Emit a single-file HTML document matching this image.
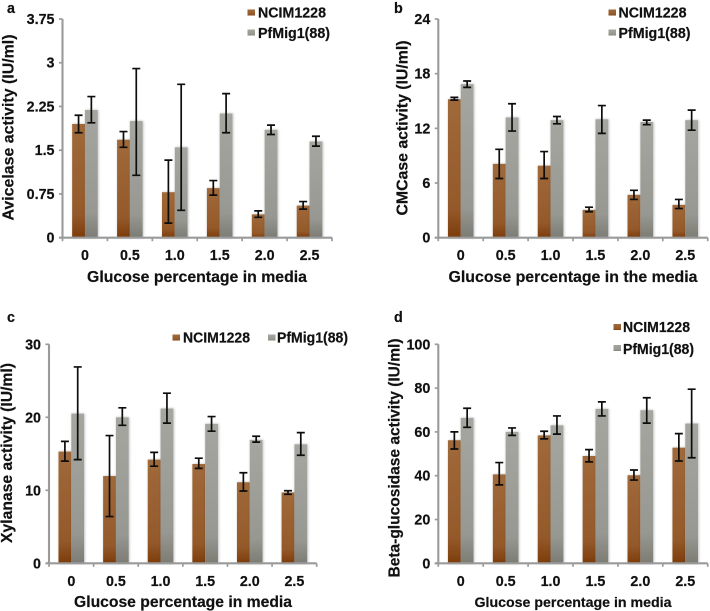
<!DOCTYPE html>
<html lang="en">
<head>
<meta charset="utf-8">
<title>Enzyme activity by glucose percentage</title>
<style>
html,body{margin:0;padding:0;background:#fff;width:710px;height:611px;overflow:hidden}
svg{display:block;filter:blur(.3px)}
text{font-family:"Liberation Sans",sans-serif;font-weight:700;fill:#111;font-size:14.3px;stroke:#111;stroke-width:.2px}
</style>
</head>
<body>
<svg id="figure" width="710" height="611" viewBox="0 0 710 611" xmlns="http://www.w3.org/2000/svg">
<defs>
<linearGradient id="brownFill" x1="0" y1="0" x2="0" y2="1"><stop offset="0" stop-color="#a0693a"/><stop offset=".8" stop-color="#94592a"/><stop offset="1" stop-color="#7c3c0a"/></linearGradient>
<linearGradient id="greyFill" x1="0" y1="0" x2="0" y2="1"><stop offset="0" stop-color="#a6a6a0"/><stop offset=".8" stop-color="#989892"/><stop offset="1" stop-color="#7c7c75"/></linearGradient>
<filter id="barGlow" x="-40%" y="-10%" width="180%" height="120%"><feDropShadow dx="0.6" dy="0" stdDeviation="1.4" flood-color="#000" flood-opacity=".28"/></filter>
</defs>

<text x="7" y="13">a</text>
<text x="394" y="13">b</text>
<text x="7" y="322">c</text>
<text x="394" y="322">d</text>

<text transform="translate(13.5 127.5) rotate(-90)" text-anchor="middle" textLength="186" lengthAdjust="spacingAndGlyphs" style="font-size:15.5px">Avicelase activity (IU/ml)</text>
<text transform="translate(407.7 128) rotate(-90)" text-anchor="middle" textLength="175" lengthAdjust="spacingAndGlyphs" style="font-size:15.5px">CMCase activity (IU/ml)</text>
<text transform="translate(12 453) rotate(-90)" text-anchor="middle" textLength="180" lengthAdjust="spacingAndGlyphs" style="font-size:15.5px">Xylanase activity (IU/ml)</text>
<text transform="translate(399.7 458) rotate(-90)" text-anchor="middle" textLength="239" lengthAdjust="spacingAndGlyphs" style="font-size:15.5px">Beta-glucosidase activity (IU/ml)</text>

<text x="197" y="282" text-anchor="middle" textLength="220" lengthAdjust="spacingAndGlyphs" style="font-size:15.5px">Glucose percentage in media</text>
<text x="573" y="282" text-anchor="middle" textLength="249" lengthAdjust="spacingAndGlyphs" style="font-size:15.5px">Glucose percentage in the media</text>
<text x="183" y="607" text-anchor="middle" textLength="218" lengthAdjust="spacingAndGlyphs" style="font-size:15.5px">Glucose percentage in media</text>
<text x="573" y="607" text-anchor="middle" textLength="197" lengthAdjust="spacingAndGlyphs" style="font-size:14px">Glucose percentage in media</text>

<g>
<rect x="247.5" y="9.5" width="7.5" height="6" fill="url(#brownFill)"/>
<text x="258" y="17.5" textLength="68" lengthAdjust="spacingAndGlyphs">NCIM1228</text>
<rect x="247.5" y="29.5" width="7.5" height="6" fill="url(#greyFill)"/>
<text x="258" y="38" textLength="72" lengthAdjust="spacingAndGlyphs">PfMig1(88)</text>
</g>
<g>
<rect x="608.5" y="9.5" width="7.5" height="6" fill="url(#brownFill)"/>
<text x="618.5" y="17.5" textLength="68" lengthAdjust="spacingAndGlyphs">NCIM1228</text>
<rect x="608.5" y="29.5" width="7.5" height="6" fill="url(#greyFill)"/>
<text x="618.5" y="38" textLength="72" lengthAdjust="spacingAndGlyphs">PfMig1(88)</text>
</g>
<g>
<rect x="172.5" y="334.5" width="7.5" height="6" fill="url(#brownFill)"/>
<text x="183" y="342.7" textLength="67" lengthAdjust="spacingAndGlyphs">NCIM1228</text>
<rect x="268" y="334.5" width="7.5" height="6" fill="url(#greyFill)"/>
<text x="277" y="342.7" textLength="71" lengthAdjust="spacingAndGlyphs">PfMig1(88)</text>
</g>
<g>
<rect x="613.5" y="324" width="7.5" height="6" fill="url(#brownFill)"/>
<text x="623" y="332" textLength="67" lengthAdjust="spacingAndGlyphs">NCIM1228</text>
<rect x="613.5" y="345" width="7.5" height="6" fill="url(#greyFill)"/>
<text x="623" y="354" textLength="71" lengthAdjust="spacingAndGlyphs">PfMig1(88)</text>
</g>

<g id="plots"></g>
</svg>
<script>
const categories = ['0', '0.5', '1.0', '1.5', '2.0', '2.5'];

const aTicks = [0, 0.75, 1.5, 2.25, 3, 3.75];
const aTickLabels = ['0', '0.75', '1.5', '2.25', '3', '3.75'];
const aNcim = [1.95, 1.68, 0.78, 0.85, 0.40, 0.55];
const aNcimLow = [1.80, 1.55, 0.25, 0.73, 0.35, 0.49];
const aNcimHigh = [2.10, 1.82, 1.33, 0.98, 0.46, 0.62];
const aPf = [2.19, 2.00, 1.55, 2.13, 1.85, 1.65];
const aPfLow = [1.97, 1.07, 0.47, 1.80, 1.77, 1.57];
const aPfHigh = [2.42, 2.90, 2.63, 2.47, 1.93, 1.74];

const bTicks = [0, 6, 12, 18, 24];
const bTickLabels = ['0', '6', '12', '18', '24'];
const bNcim = [15.2, 8.1, 7.9, 3.05, 4.7, 3.6];
const bNcimLow = [15.1, 6.5, 6.5, 2.85, 4.2, 3.2];
const bNcimHigh = [15.4, 9.7, 9.45, 3.35, 5.2, 4.2];
const bPf = [16.85, 13.2, 12.9, 13.0, 12.7, 12.9];
const bPfLow = [16.5, 11.7, 12.5, 11.45, 12.4, 11.8];
const bPfHigh = [17.2, 14.7, 13.3, 14.5, 12.9, 14.0];

const cTicks = [0, 10, 20, 30];
const cTickLabels = ['0', '10', '20', '30'];
const cNcim = [15.3, 11.95, 14.2, 13.6, 11.1, 9.7];
const cNcimLow = [14.0, 6.4, 13.3, 13.0, 9.9, 9.45];
const cNcimHigh = [16.7, 17.5, 15.2, 14.4, 12.4, 9.95];
const cPf = [20.5, 20.0, 21.2, 19.1, 16.9, 16.3];
const cPfLow = [14.2, 18.9, 19.2, 18.1, 16.6, 14.8];
const cPfHigh = [26.9, 21.3, 23.3, 20.1, 17.4, 17.9];

const dTicks = [0, 20, 40, 60, 80, 100];
const dTickLabels = ['0', '20', '40', '60', '80', '100'];
const dNcim = [56.2, 40.6, 58.4, 49.0, 40.2, 52.8];
const dNcimLow = [52.2, 35.8, 56.8, 46.3, 38.0, 46.7];
const dNcimHigh = [60.0, 46.0, 60.3, 51.9, 42.6, 59.2];
const dPf = [66.4, 60.0, 63.0, 70.5, 69.9, 63.8];
const dPfLow = [62.1, 58.4, 59.0, 67.3, 64.0, 48.2];
const dPfHigh = [70.8, 61.8, 67.3, 73.7, 75.6, 79.5];

const NS = 'http://www.w3.org/2000/svg';
const plots = document.getElementById('plots');

function make(parent, tag, attrs) {
  const el = document.createElementNS(NS, tag);
  Object.keys(attrs).forEach(function (k) { el.setAttribute(k, attrs[k]); });
  parent.appendChild(el);
  return el;
}

function drawSeries(group, key, seriesName, values, low, high, fill, offset, xCenter, yScale, baseY, barW) {
  values.forEach(function (v, i) {
    const left = xCenter(i) + offset * barW;
    const bar = make(group, 'rect', {
      x: left, y: yScale(v), width: barW, height: baseY - yScale(v),
      fill: fill, filter: 'url(#barGlow)'
    });
    
    
  });
}

function drawErrors(group, key, seriesName, values, low, high, offset, xCenter, yScale, barW) {
  values.forEach(function (v, i) {
    const cx = xCenter(i) + offset * barW + barW / 2;
    const yl = yScale(low[i]);
    const yh = yScale(high[i]);
    const err = make(group, 'path', {
      d: 'M' + (cx - 4) + ' ' + yh + 'H' + (cx + 4) + 'M' + cx + ' ' + yh + 'V' + yl + 'M' + (cx - 4) + ' ' + yl + 'H' + (cx + 4),
      fill: 'none', stroke: '#0d0d0d', 'stroke-width': 1.7
    });
    
    
  });
}

function drawPanel(key, box, ticks, tickLabels, ncim, ncimLow, ncimHigh, pf, pfLow, pfHigh) {
  const group = make(plots, 'g', {});
  
  

  const maxV = ticks[ticks.length - 1];
  const yScale = function (v) { return box.bottom - (v / maxV) * (box.bottom - box.top); };
  const step = (box.right - box.left) / categories.length;
  const xCenter = function (i) { return box.left + step * (i + 0.5); };
  const barW = 12.8;

  drawSeries(group, key, 'ncim1228', ncim, ncimLow, ncimHigh, 'url(#brownFill)', -1, xCenter, yScale, box.bottom, barW);
  drawSeries(group, key, 'pfmig1', pf, pfLow, pfHigh, 'url(#greyFill)', 0, xCenter, yScale, box.bottom, barW);
  drawErrors(group, key, 'ncim1228', ncim, ncimLow, ncimHigh, -1, xCenter, yScale, barW);
  drawErrors(group, key, 'pfmig1', pf, pfLow, pfHigh, 0, xCenter, yScale, barW);

  const yAxis = make(group, 'line', { x1: box.left, x2: box.left, y1: box.top, y2: box.bottom, stroke: '#9a9a9a', 'stroke-width': 2.1 });
  
  

  const xAxis = make(group, 'line', { x1: box.left - 3.5, x2: box.right, y1: box.bottom, y2: box.bottom, stroke: '#9a9a9a', 'stroke-width': 2.1 });
  
  

  ticks.forEach(function (t, i) {
    const y = yScale(t);
    const mark = make(group, 'line', { x1: box.left - 3.5, x2: box.left, y1: y, y2: y, stroke: '#9a9a9a', 'stroke-width': 1.7 });
    
    
    const label = make(group, 'text', { x: box.left - 8, y: y + 5, 'text-anchor': 'end' });
    label.textContent = tickLabels[i];
    
    
  });

  for (let i = 0; i <= categories.length; i++) {
    const x = box.left + step * i;
    const mark = make(group, 'line', { x1: x, x2: x, y1: box.bottom, y2: box.bottom + 3.5, stroke: '#9a9a9a', 'stroke-width': 1.7 });
    
    
  }

  categories.forEach(function (c, i) {
    const label = make(group, 'text', { x: xCenter(i), y: box.labelY, 'text-anchor': 'middle' });
    label.textContent = c;
    
    
  });
}

drawPanel('a', { left: 62.5, right: 332, top: 19, bottom: 237.7, labelY: 260 }, aTicks, aTickLabels, aNcim, aNcimLow, aNcimHigh, aPf, aPfLow, aPfHigh);
drawPanel('b', { left: 438.3, right: 707.7, top: 19, bottom: 237.7, labelY: 260 }, bTicks, bTickLabels, bNcim, bNcimLow, bNcimHigh, bPf, bPfLow, bPfHigh);
drawPanel('c', { left: 49, right: 316.7, top: 344.3, bottom: 563.3, labelY: 586 }, cTicks, cTickLabels, cNcim, cNcimLow, cNcimHigh, cPf, cPfLow, cPfHigh);
drawPanel('d', { left: 438.3, right: 707.7, top: 344.3, bottom: 563.3, labelY: 586 }, dTicks, dTickLabels, dNcim, dNcimLow, dNcimHigh, dPf, dPfLow, dPfHigh);
</script>
</body>
</html>
